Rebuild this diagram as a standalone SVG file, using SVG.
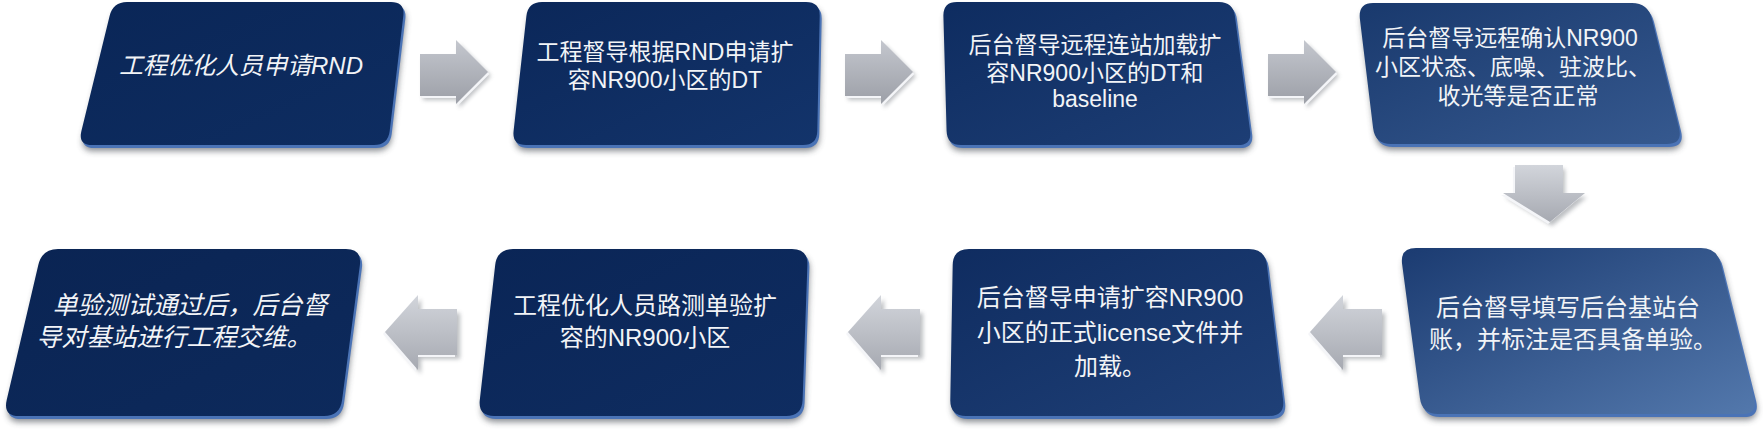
<svg xmlns="http://www.w3.org/2000/svg" xmlns:xlink="http://www.w3.org/1999/xlink" width="1763" height="430" viewBox="0 0 1763 430">
<style>
.t{font-family:"Liberation Sans","Noto Sans CJK SC",sans-serif;fill:#f2f4f7;text-anchor:middle;dominant-baseline:central}
.it{font-style:italic}
.shadow{fill:#3a3f48;opacity:.6;filter:url(#blur)}
.bevel{fill:#4a73b6}
.ashadow{fill:#6b6f77;opacity:.45;filter:url(#blur2)}
.ahl{fill:#f4f5f8}
</style>
<defs>
<filter id="blur" x="-10%" y="-10%" width="120%" height="130%"><feGaussianBlur stdDeviation="3"/></filter>
<filter id="blur2" x="-20%" y="-20%" width="140%" height="140%"><feGaussianBlur stdDeviation="2"/></filter>
<linearGradient id="g1" x1="0" y1="0" x2="1" y2="1"><stop offset="0" stop-color="#0a2657"/><stop offset="1" stop-color="#0e2d61"/></linearGradient>
<linearGradient id="g2" x1="0" y1="0" x2="1" y2="1"><stop offset="0" stop-color="#0b2759"/><stop offset="1" stop-color="#13346b"/></linearGradient>
<linearGradient id="g3" x1="0" y1="0" x2="1" y2="1"><stop offset="0" stop-color="#0e2c60"/><stop offset="1" stop-color="#1d3e75"/></linearGradient>
<linearGradient id="g4" x1="0" y1="0" x2="1" y2="1"><stop offset="0" stop-color="#19396d"/><stop offset="1" stop-color="#36598f"/></linearGradient>
<linearGradient id="g5" x1="0" y1="0" x2="1" y2="1"><stop offset="0" stop-color="#1b3b71"/><stop offset="1" stop-color="#5378ac"/></linearGradient>
<linearGradient id="g6" x1="0" y1="0" x2="1" y2="1"><stop offset="0" stop-color="#0f2c60"/><stop offset="1" stop-color="#1f4077"/></linearGradient>
<linearGradient id="g7" x1="0" y1="0" x2="1" y2="1"><stop offset="0" stop-color="#0a2556"/><stop offset="1" stop-color="#0f2d61"/></linearGradient>
<linearGradient id="g8" x1="0" y1="0" x2="1" y2="1"><stop offset="0" stop-color="#0a2453"/><stop offset="1" stop-color="#0d2a5c"/></linearGradient>
<linearGradient id="ga" x1="0" y1="0" x2="0" y2="1"><stop offset="0" stop-color="#c4c7ce"/><stop offset="1" stop-color="#9c9fa7"/></linearGradient>
<linearGradient id="gl" x1="0" y1="0" x2="0" y2="1"><stop offset="0" stop-color="#d2d5db"/><stop offset="1" stop-color="#a6a9b1"/></linearGradient>
<path id="b1" d="M127,2 L391,2 Q405,2 403.3,16 L389.7,131 Q388,145 374,145 L92,145 Q78,145 81.4,131 L109.6,16 Q113,2 127,2 Z"/>
<path id="b2" d="M542,2 L806,2 Q820,2 819.7,16 L817.3,131 Q817,145 803,145 L526,145 Q512,145 513.6,131 L526.4,16 Q528,2 542,2 Z"/>
<path id="b3" d="M957,2 L1219,2 Q1233,2 1234.9,16 L1250.1,131 Q1252,145 1238,145 L961,145 Q947,145 946.6,131 L943.4,16 Q943,2 957,2 Z"/>
<path id="b4" d="M1373,3 L1632,3 Q1648,3 1652,19 L1679,128 Q1683,144 1667,144 L1391,144 Q1375,144 1373.1,128 L1359.9,19 Q1358,3 1373,3 Z"/>
<path id="b5" d="M1416,248 L1701,248 Q1717,248 1720.9,264 L1754.1,398 Q1758,414 1742,414 L1438,414 Q1422,414 1419.9,398 L1402.1,264 Q1400,248 1416,248 Z"/>
<path id="b6" d="M969,249 L1249,249 Q1265,249 1266.9,265 L1283.1,400 Q1285,416 1269,416 L966,416 Q950,416 950.3,400 L952.7,265 Q953,249 969,249 Z"/>
<path id="b7" d="M513,249 L792,249 Q808,249 807.4,265 L802.6,400 Q802,416 786,416 L494,416 Q478,416 479.8,400 L495.2,265 Q497,249 513,249 Z"/>
<path id="b8" d="M58,249 L346,249 Q362,249 359.9,265 L342.1,400 Q340,416 324,416 L19,416 Q3,416 6.7,400 L38.3,265 Q42,249 58,249 Z"/>
<polygon id="ar" points="0,14 36,14 36,0 68,32 36,64 36,56 0,56"/>
<polygon id="al" points="0,37 33,0 33,14 72,14 72,60 33,60 33,75"/>
<polygon id="ad" points="1515,165 1563,165 1563,193 1585,193 1550,222 1503,193 1515,193"/>
</defs>

<g id="connectors">
  <g id="a1" transform="translate(420,40)"><use href="#ar" class="ashadow" transform="translate(3,4)"/><use href="#ar" class="ahl" transform="translate(1.5,2)"/><use href="#ar" fill="url(#ga)"/></g>
  <g id="a2" transform="translate(845,40)"><use href="#ar" class="ashadow" transform="translate(3,4)"/><use href="#ar" class="ahl" transform="translate(1.5,2)"/><use href="#ar" fill="url(#ga)"/></g>
  <g id="a3" transform="translate(1268,40)"><use href="#ar" class="ashadow" transform="translate(3,4)"/><use href="#ar" class="ahl" transform="translate(1.5,2)"/><use href="#ar" fill="url(#ga)"/></g>
  <g id="a4"><use href="#ad" class="ashadow" transform="translate(2,4)"/><use href="#ad" class="ahl" transform="translate(-2,2)"/><use href="#ad" fill="url(#gl)"/></g>
  <g id="a5" transform="translate(1310,295)"><use href="#al" class="ashadow" transform="translate(3,4)"/><use href="#al" class="ahl" transform="translate(-2,2)"/><use href="#al" fill="url(#gl)"/></g>
  <g id="a6" transform="translate(848,295)"><use href="#al" class="ashadow" transform="translate(3,4)"/><use href="#al" class="ahl" transform="translate(-2,2)"/><use href="#al" fill="url(#gl)"/></g>
  <g id="a7" transform="translate(385,295)"><use href="#al" class="ashadow" transform="translate(3,4)"/><use href="#al" class="ahl" transform="translate(-2,2)"/><use href="#al" fill="url(#gl)"/></g>
</g>

<g id="node1">
  <use href="#b1" class="shadow" transform="translate(2,6)"/>
  <use href="#b1" class="bevel" transform="translate(2,3)"/>
  <use href="#b1" fill="url(#g1)"/>
  <text class="t it" x="241" y="65" font-size="24">工程优化人员申请RND</text>
</g>
<g id="node2">
  <use href="#b2" class="shadow" transform="translate(2,6)"/>
  <use href="#b2" class="bevel" transform="translate(2,3)"/>
  <use href="#b2" fill="url(#g2)"/>
  <text class="t" font-size="23"><tspan x="665" y="52">工程督导根据RND申请扩</tspan><tspan x="665" y="80">容NR900小区的DT</tspan></text>
</g>
<g id="node3">
  <use href="#b3" class="shadow" transform="translate(2,6)"/>
  <use href="#b3" class="bevel" transform="translate(2,3)"/>
  <use href="#b3" fill="url(#g3)"/>
  <text class="t" font-size="23"><tspan x="1095" y="45">后台督导远程连站加载扩</tspan><tspan x="1095" y="73">容NR900小区的DT和</tspan><tspan x="1095" y="99">baseline</tspan></text>
</g>
<g id="node4">
  <use href="#b4" class="shadow" transform="translate(2,6)"/>
  <use href="#b4" class="bevel" transform="translate(2,3)"/>
  <use href="#b4" fill="url(#g4)"/>
  <text class="t" font-size="23"><tspan x="1510" y="38">后台督导远程确认NR900</tspan><tspan x="1513" y="67">小区状态、底噪、驻波比、</tspan><tspan x="1518" y="96">收光等是否正常</tspan></text>
</g>
<g id="node5">
  <use href="#b5" class="shadow" transform="translate(2,6)"/>
  <use href="#b5" class="bevel" transform="translate(2,3)"/>
  <use href="#b5" fill="url(#g5)"/>
  <text class="t" font-size="24"><tspan x="1568" y="307">后台督导填写后台基站台</tspan><tspan x="1573" y="339">账，并标注是否具备单验。</tspan></text>
</g>
<g id="node6">
  <use href="#b6" class="shadow" transform="translate(2,6)"/>
  <use href="#b6" class="bevel" transform="translate(2,3)"/>
  <use href="#b6" fill="url(#g6)"/>
  <text class="t" font-size="24"><tspan x="1110" y="297">后台督导申请扩容NR900</tspan><tspan x="1110" y="332">小区的正式license文件并</tspan><tspan x="1110" y="366">加载。</tspan></text>
</g>
<g id="node7">
  <use href="#b7" class="shadow" transform="translate(2,6)"/>
  <use href="#b7" class="bevel" transform="translate(2,3)"/>
  <use href="#b7" fill="url(#g7)"/>
  <text class="t" font-size="24"><tspan x="645" y="305">工程优化人员路测单验扩</tspan><tspan x="645" y="337">容的NR900小区</tspan></text>
</g>
<g id="node8">
  <use href="#b8" class="shadow" transform="translate(2,6)"/>
  <use href="#b8" class="bevel" transform="translate(2,3)"/>
  <use href="#b8" fill="url(#g8)"/>
  <text class="t it" font-size="25"><tspan x="190" y="305">单验测试通过后，后台督</tspan><tspan x="174" y="337">导对基站进行工程交维。</tspan></text>
</g>
</svg>
